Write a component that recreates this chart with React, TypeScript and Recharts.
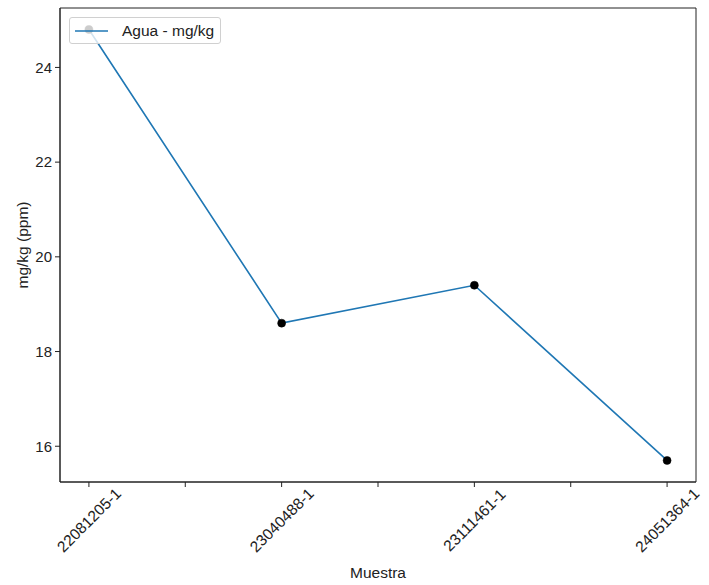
import React from "react";
import { LineChart, Line, XAxis, YAxis, ReferenceArea } from "recharts";

const samples = ["22081205-1", "23040488-1", "23111461-1", "24051364-1"];
const agua = [24.8, 18.6, 19.4, 15.7];
const yTicks = [16, 18, 20, 22, 24];
const xTicks = [0, 0.5, 1, 1.5, 2, 2.5, 3];

const xDomain: [number, number] = [-0.15, 3.15];
const yDomain: [number, number] = [15.245, 25.255];

const FONT = "'Liberation Sans', Arial, Helvetica, sans-serif";

const data = agua.map((v, i) => ({ x: i, agua: v }));

function XTick(props: any) {
  const { x, y, payload } = props;
  const v = payload.value;
  if (!Number.isInteger(v)) return null;
  const cy = y + 31;
  return (
    <text
      x={x}
      y={cy}
      textAnchor="middle"
      dominantBaseline="central"
      fontSize={15.5}
      fill="#222"
      fontFamily={FONT}
      transform={`rotate(-45, ${x}, ${cy})`}
    >
      {samples[v]}
    </text>
  );
}

export default function App() {
  return (
    <div
      style={{
        position: "absolute",
        left: 0,
        top: 0,
        width: 709,
        height: 585,
        background: "#fff",
        fontFamily: FONT,
      }}
    >
      <LineChart
        width={709}
        height={585}
        data={data}
        margin={{ top: 8, right: 13, bottom: 0, left: 10 }}
      >
        <XAxis
          dataKey="x"
          type="number"
          domain={xDomain}
          ticks={xTicks}
          interval={0}
          allowDataOverflow
          height={103}
          tickSize={5}
          stroke="#222"
          tick={<XTick />}
          label={(p: any) => {
            const vb = p.viewBox;
            return (
              <text
                x={vb.x + vb.width / 2}
                y={578}
                textAnchor="middle"
                fontSize={15.5}
                fill="#222"
                fontFamily={FONT}
              >
                Muestra
              </text>
            );
          }}
        />
        <YAxis
          type="number"
          domain={yDomain}
          ticks={yTicks}
          allowDataOverflow
          width={50}
          tickSize={5}
          tickMargin={3}
          stroke="#222"
          tick={{ fill: "#222", fontSize: 15, fontFamily: FONT }}
          label={(p: any) => {
            const vb = p.viewBox;
            const cy = vb.y + vb.height / 2;
            return (
              <text
                x={22}
                y={cy}
                textAnchor="middle"
                dominantBaseline="central"
                fontSize={15.5}
                fill="#222"
                fontFamily={FONT}
                transform={`rotate(-90, 22, ${cy})`}
              >
                mg/kg (ppm)
              </text>
            );
          }}
        />
        <ReferenceArea
          x1={xDomain[0]}
          x2={xDomain[1]}
          y1={yDomain[0]}
          y2={yDomain[1]}
          fill="none"
          stroke="#222"
          strokeWidth={1}
          fillOpacity={0}
          ifOverflow="visible"
        />
        <Line
          dataKey="agua"
          type="linear"
          stroke="#1f77b4"
          strokeWidth={1.6}
          dot={{ r: 4, fill: "#000", stroke: "#000", strokeWidth: 0.5 }}
          activeDot={false}
          isAnimationActive={false}
        />
      </LineChart>
      <div
        style={{
          position: "absolute",
          left: 69,
          top: 17,
          width: 152,
          height: 27,
          background: "rgba(255,255,255,0.8)",
          border: "1px solid #d0d0d0",
          borderRadius: 3,
          display: "flex",
          alignItems: "center",
          boxSizing: "border-box",
        }}
      >
        <svg width={48} height={26} style={{ display: "block" }}>
          <line x1={5} y1={13} x2={38} y2={13} stroke="#1f77b4" strokeWidth={1.6} />
        </svg>
        <span style={{ fontSize: 15.5, color: "#222", marginLeft: 4, whiteSpace: "nowrap" }}>
          Agua - mg/kg
        </span>
      </div>
    </div>
  );
}
